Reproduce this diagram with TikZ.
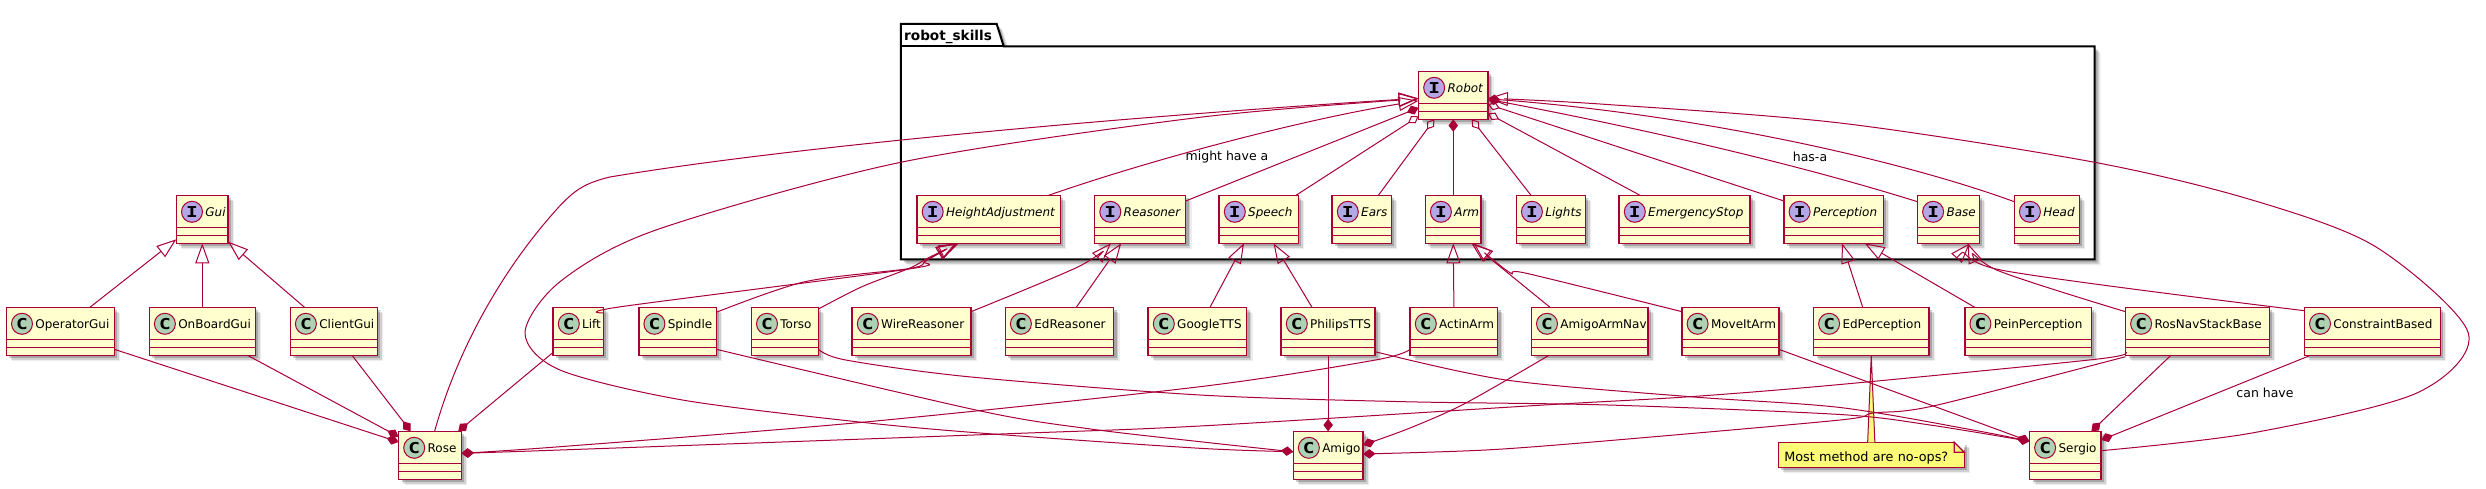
\documentclass[tikz,border=0pt]{standalone}
\usepackage{fontspec}
\setmainfont{DejaVu Sans}
\setmonofont[FakeStretch=1.3]{DejaVu Sans Mono}
\usepackage{xcolor}
\usepackage{tikz}
\usetikzlibrary{positioning,arrows.meta,shadows}

\definecolor{umlred}{HTML}{A80036}
\definecolor{umlfill}{HTML}{FEFECE}
\definecolor{umlclass}{HTML}{ADD1B2}
\definecolor{umliface}{HTML}{B4A7E5}
\definecolor{umlnote}{HTML}{FBFB77}
\newcommand{\namefont}{\fontsize{12}{14}\selectfont}

\begin{document}
\begin{tikzpicture}[
    x=1pt, y=-1pt,
    font=\namefont,
    softshadow/.style={drop shadow={shadow xshift=6pt, shadow yshift=-6pt, fill=black, opacity=.07},
                       drop shadow={shadow xshift=4.5pt, shadow yshift=-4.5pt, fill=black, opacity=.12},
                       drop shadow={shadow xshift=3pt, shadow yshift=-3pt, fill=black, opacity=.2}},
    classbox/.style={draw=umlred, fill=umlfill, line width=1.5pt, inner sep=0pt, outer sep=0pt, softshadow,
                     text width=#1pt, text height=21pt, text depth=27pt, align=left,
                     execute at begin node={\hspace*{29pt}}},
    ifacebox/.style={classbox=#1, font=\namefont\itshape},
    member/.style={draw=umlred, line width=1.5pt},
    iconC/.style={circle, draw=umlred, fill=umlclass, line width=1pt, minimum size=21pt, inner sep=0pt, font=\fontsize{15}{15}\selectfont\ttfamily\bfseries},
    iconI/.style={iconC, fill=umliface},
    link/.style={draw=umlred, line width=1pt},
    extends/.style={link, -{Triangle[open, length=20pt, width=14pt]}},
    composes/.style={link, -{Diamond[length=12.5pt, width=9.5pt]}},
    aggregates/.style={link, -{Diamond[open, length=12.5pt, width=8.5pt]}},
    linklabel/.style={font=\fontsize{12.5}{14}\selectfont, inner sep=0pt},
    pkgframe/.style={draw=black, fill=white, line width=2pt, softshadow},
    notebox/.style={draw=umlred, fill=umlnote, line width=1.2pt, inner sep=0pt, outer sep=0pt, softshadow,
                    text width=186pt, text height=19pt, text depth=6pt, align=left,
                    font=\fontsize{12.8}{14}\selectfont, execute at begin node={\hspace*{6pt}}}
]
\useasboundingbox (0,0) rectangle (2486,489);

% Package frame
\path[pkgframe] (900.8,46.3) -- (900.8,24) -- (996.7,24) -- (1003.7,46.3) -- (2094.6,46.3) -- (2094.6,259.3) -- (900.8,259.3) -- cycle;
\draw[black, line width=2pt] (900.8,46.3) -- (1003.7,46.3);
\node[anchor=base west, inner sep=0pt, font=\fontsize{13.6}{14}\selectfont\bfseries] (pkgtitle) at (904,40.7) {robot\_skills};

% Gui classes
\node[classbox=107.9] (operatorgui) at (60.35,331.3) {OperatorGui};
\node[classbox=106, right=35pt of operatorgui] (onboardgui) {OnBoardGui};
\node[classbox=87, right=35pt of onboardgui] (clientgui) {ClientGui};
\node[ifacebox=51.8, above=64pt of onboardgui] (gui) {Gui};

% Interfaces inside the package
\node[ifacebox=143.3] (heightadjustment) at (988.75,219.3) {HeightAdjustment};
\node[ifacebox=91, right=34.3pt of heightadjustment] (reasoner) {Reasoner};
\node[ifacebox=79.2, right=33.5pt of reasoner] (speech) {Speech};
\node[ifacebox=59.2, right=33.8pt of speech] (ears) {Ears};
\node[ifacebox=55.9, right=33.9pt of ears] (arm) {Arm};
\node[ifacebox=69, right=35.1pt of arm] (lights) {Lights};
\node[ifacebox=131, right=33.9pt of lights] (emergencystop) {EmergencyStop};
\node[ifacebox=99.3, right=33.8pt of emergencystop] (perception) {Perception};
\node[ifacebox=61.8, right=34.2pt of perception] (base) {Base};
\node[ifacebox=65.1, right=35pt of base] (head) {Head};
\node[ifacebox=69.4, above=76pt of arm] (robot) {Robot};

% Implementations
\node[classbox=50.1] (lift) at (578.25,331.3) {Lift};
\node[classbox=77.5, right=35.5pt of lift] (spindle) {Spindle};
\node[classbox=67, right=35.1pt of spindle] (torso) {Torso};
\node[classbox=118.8, right=33.8pt of torso] (wirereasoner) {WireReasoner};
\node[classbox=108.2, right=34.3pt of wirereasoner] (edreasoner) {EdReasoner};
\node[classbox=98.3, right=34.7pt of edreasoner] (googletts) {GoogleTTS};
\node[classbox=93.9, right=34.7pt of googletts] (philipstts) {PhilipsTTS};
\node[classbox=87.4, right=35.1pt of philipstts] (actinarm) {ActinArm};
\node[classbox=116.8, right=33.8pt of actinarm] (amigoarmnav) {AmigoArmNav};
\node[classbox=96.8, right=33.8pt of amigoarmnav] (moveitarm) {MoveItArm};
\node[classbox=115.5, right=34.7pt of moveitarm] (edperception) {EdPerception};
\node[classbox=126.5, right=35.8pt of edperception] (peinperception) {PeinPerception};
\node[classbox=143.8, right=34.2pt of peinperception] (rosnavstackbase) {RosNavStackBase};
\node[classbox=135.9, right=35.1pt of rosnavstackbase] (constraintbased) {ConstraintBased};

% Robots
\node[classbox=62.8] (rose) at (430,455.3) {Rose};
\node[classbox=69.8, below=76pt of philipstts] (amigo) {Amigo};
\node[classbox=71.7] (sergio) at (2065.35,455.3) {Sergio};

% Note
\node[notebox, below=87pt of edperception] (note) {Most method are no-ops?};
\fill[white] ([xshift=-10pt]note.north east) -- ([xshift=1pt,yshift=1pt]note.north east) -- ([yshift=-10pt]note.north east) -- cycle;
\draw[link, line width=1.2pt, fill=umlnote] ([xshift=-10pt]note.north east) -- ([xshift=-10pt,yshift=-10pt]note.north east) -- ([yshift=-10pt]note.north east) -- cycle;
\draw[link, fill=umlnote] ([xshift=-3.6pt]note.north) -- (edperception.south) -- ([xshift=3.6pt]note.north);

% Compartments and icons
\foreach \name/\mark in {gui/I, robot/I, heightadjustment/I, reasoner/I, speech/I, ears/I, arm/I, lights/I, emergencystop/I, perception/I, base/I, head/I,
                         operatorgui/C, onboardgui/C, clientgui/C, lift/C, spindle/C, torso/C, wirereasoner/C, edreasoner/C, googletts/C, philipstts/C,
                         actinarm/C, amigoarmnav/C, moveitarm/C, edperception/C, peinperception/C, rosnavstackbase/C, constraintbased/C, rose/C, amigo/C, sergio/C} {
    \draw[member] ([yshift=-32pt]\name.north west) -- ([yshift=-32pt]\name.north east);
    \draw[member] ([yshift=-40pt]\name.north west) -- ([yshift=-40pt]\name.north east);
    \node[icon\mark] (\name-icon) at ([xshift=15.6pt,yshift=-16.5pt]\name.north west) {\mark};
}

% Gui connectors
\draw[extends] ([xshift=29.6pt]operatorgui.north) -- ([yshift=-20pt]gui.west);
\draw[extends] (onboardgui.north) -- (gui.south);
\draw[extends] ([xshift=-29.3pt]clientgui.north) -- ([yshift=-22.4pt]gui.east);
\draw[composes] ([yshift=-18pt]operatorgui.east) -- ([yshift=13.3pt]rose.west);
\draw[composes] ([xshift=45.2pt]onboardgui.south) -- ([yshift=18.6pt]rose.west);
\draw[composes] ([xshift=18.2pt]clientgui.south) -- ([xshift=-19.3pt]rose.north);

% Robots to Robot
\draw[extends] ([xshift=4.6pt]rose.north) .. controls (460,340) and (510,260) .. (560,205.7) .. controls (575,190) and (585,183) .. (610,177) .. controls (800,145) and (1150,115) .. ([yshift=-3pt]robot.west);
\draw[extends] plot[smooth, tension=.5] coordinates {([yshift=3.6pt]amigo.west) (1200,448.3) (992.6,434) (862,422.3) (682.4,400) (560,370) (525,333) (560,281.7) (656,230) (900.8,162.3) (1200,117.3) ([yshift=-3.5pt]robot.west)};
\draw[extends] plot[smooth, tension=.5] coordinates {([yshift=4.6pt]sergio.east) (2252,433) (2416.8,393) (2468.3,333) (2375.6,246.7) (2252,200) (2094.6,162.3) (1840,123) (1600,104) ([yshift=-3pt]robot.east)};

% Interfaces to Robot
\draw[extends] ([xshift=59.85pt]heightadjustment.north) .. controls (1150,160) and (1300,120) .. ([yshift=-5.5pt]robot.west);
\draw[composes] ([yshift=18.3pt]reasoner.east) -- ([yshift=-12.5pt]robot.west);
\draw[aggregates] ([xshift=37.2pt]speech.north) -- ([yshift=-21pt]robot.west);
\draw[aggregates] ([xshift=16.6pt]ears.north) -- ([xshift=-18.9pt]robot.south);
\draw[composes] (arm.north) -- (robot.south);
\draw[aggregates] ([xshift=-19.8pt]lights.north) -- ([xshift=18.4pt]robot.south);
\draw[aggregates] ([xshift=-44.7pt]emergencystop.north) -- ([yshift=-18.1pt]robot.east);
\draw[aggregates] ([yshift=18.3pt]perception.west) -- ([yshift=-9pt]robot.east);
\draw[composes] ([yshift=17.6pt]base.west) .. controls (1800,165) and (1650,130) .. ([yshift=-4pt]robot.east);
\draw[composes] ([yshift=17.6pt]head.west) .. controls (1900,160) and (1700,115) .. ([yshift=-3.5pt]robot.east);

% Implementations to interfaces
\draw[extends] plot[smooth, tension=.5] coordinates {([yshift=18.3pt]lift.east) (621,306.7) (907,269.3) (925,261) ([xshift=-32.75pt]heightadjustment.south)};
\draw[extends] plot[smooth, tension=.5] coordinates {([yshift=19pt]spindle.east) (805,281.7) (911,268.3) (927,260) ([xshift=-31.5pt]heightadjustment.south)};
\draw[extends] plot[smooth, tension=.5] coordinates {([yshift=22.3pt]torso.east) (862,286.7) (910,268) (928,258) ([xshift=-30pt]heightadjustment.south)};
\draw[extends] plot[smooth, tension=.5] coordinates {([yshift=19.6pt]wirereasoner.east) (1078.4,266.7) ([xshift=-29.2pt]reasoner.south)};
\draw[extends] ([xshift=16.9pt]edreasoner.north) -- ([xshift=-19pt]reasoner.south);
\draw[extends] ([xshift=12.65pt]googletts.north) -- ([xshift=-14.8pt]speech.south);
\draw[extends] ([xshift=-16.15pt]philipstts.north) -- ([xshift=14.7pt]speech.south);
\draw[extends] (actinarm.north) -- (arm.south);
\draw[extends] ([xshift=-39.8pt]amigoarmnav.north) -- ([xshift=18.2pt]arm.south);
\draw[extends] plot[smooth, tension=.5] coordinates {([yshift=19.6pt]moveitarm.west) (1526.5,273.3) (1510,272.7) ([xshift=20.2pt]arm.south)};
\draw[extends] ([xshift=-8.55pt]edperception.north) -- ([xshift=8.35pt]perception.south);
\draw[extends] ([xshift=-53.35pt]peinperception.north) -- ([xshift=31pt]perception.south);
\draw[extends] plot[smooth, tension=.5] coordinates {([yshift=19.6pt]rosnavstackbase.west) (1996.6,270) ([xshift=19.3pt]base.south)};
\draw[extends] plot[smooth, tension=.5] coordinates {([yshift=20.6pt]constraintbased.west) (2000.7,270) ([xshift=21.4pt]base.south)};

% Parts of Rose
\draw[composes] ([yshift=-21pt]lift.west) -- ([xshift=28.2pt]rose.north);
\draw[composes] plot[smooth, tension=.5] coordinates {([yshift=-18pt]actinarm.west) (1375.5,360) (1200,386.7) (862,422.3) (560,446.7) ([yshift=2pt]rose.east)};
\draw[composes] plot[smooth, tension=.5] coordinates {([yshift=-21pt]rosnavstackbase.west) (2095.5,359.3) (1840,384.5) (1690,396.7) (1544,405) (1200,426) (1000.8,434) (560,450) ([yshift=2pt]rose.east)};

% Parts of Amigo
\draw[composes] plot[smooth, tension=.5] coordinates {([yshift=-18pt]spindle.east) (980.4,411) (1090.6,429) (1200,441.7) ([yshift=3.5pt]amigo.west)};
\draw[composes] (philipstts.south) -- (amigo.north);
\draw[composes] plot[smooth, tension=.5] coordinates {([xshift=-40.8pt]amigoarmnav.south) (1465.3,403.3) (1410,428) ([yshift=10.3pt]amigo.east)};
\draw[composes] plot[smooth, tension=.5] coordinates {([yshift=-25.4pt]rosnavstackbase.west) (1933,406) (1873,413) (1840,420) (1608,440.7) (1485.7,450) ([yshift=1.3pt]amigo.east)};

% Parts of Sergio
\draw[composes] plot[smooth, tension=.5] coordinates {([yshift=-18pt]torso.east) (845.7,360) (968,376.7) (1200,395) (1404,401.7) (1608,405) (1840,414.5) (1930,425) ([yshift=14pt]sergio.west)};
\draw[composes] plot[smooth, tension=.5] coordinates {([yshift=-20.4pt]philipstts.east) (1506,380) (1690,396.7) (1840,407.5) (1973,430) ([yshift=14pt]sergio.west)};
\draw[composes] ([yshift=-18pt]moveitarm.east) -- ([yshift=14pt]sergio.west);
\draw[composes] ([xshift=-26.5pt]rosnavstackbase.south) -- ([xshift=26pt]sergio.north);
\draw[composes] ([xshift=-61.85pt]constraintbased.south) -- ([yshift=15.3pt]sergio.east);

% Labels
\node[linklabel] (mighthave) at (1227,157) {might have a};
\node[linklabel] (hasa) at (1810,157) {has-a};
\node[linklabel] (canhave) at (2265,393) {can have};

\end{tikzpicture}
\end{document}
